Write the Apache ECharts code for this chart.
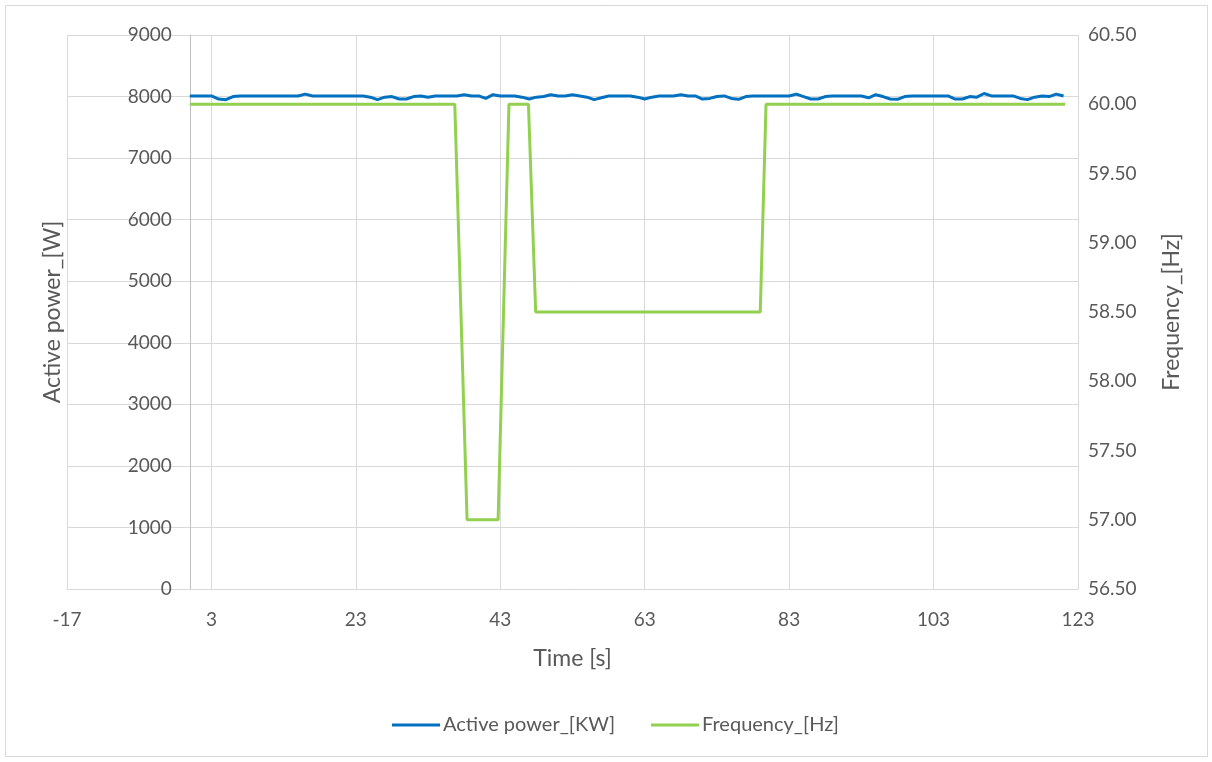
<!DOCTYPE html>
<html>
<head>
<meta charset="utf-8">
<title>Active power and frequency</title>
<script src="https://cdn.jsdelivr.net/npm/echarts@6/dist/echarts.min.js"></script>
<style>
  html, body { margin: 0; padding: 0; background: #ffffff; }
  #chart { width: 1212px; height: 762px; }
</style>
</head>
<body>
<div id="chart"></div>
<script>
// Active power samples, one per second from t = 0 s
const powerTime = [
  0, 1, 2, 3, 4, 5, 6, 7, 8, 9, 10, 11, 12, 13, 14, 15, 16, 17, 18, 19,
  20, 21, 22, 23, 24, 25, 26, 27, 28, 29, 30, 31, 32, 33, 34, 35, 36, 37, 38, 39,
  40, 41, 42, 43, 44, 45, 46, 47, 48, 49, 50, 51, 52, 53, 54, 55, 56, 57, 58, 59,
  60, 61, 62, 63, 64, 65, 66, 67, 68, 69, 70, 71, 72, 73, 74, 75, 76, 77, 78, 79,
  80, 81, 82, 83, 84, 85, 86, 87, 88, 89, 90, 91, 92, 93, 94, 95, 96, 97, 98, 99,
  100, 101, 102, 103, 104, 105, 106, 107, 108, 109, 110, 111, 112, 113, 114, 115, 116, 117, 118, 119,
  120, 121
];
const powerKW = [
  8010, 8010, 8010, 8010, 7960, 7950, 8000, 8010, 8010, 8010, 8010, 8010, 8010, 8010, 8010, 8010, 8040, 8010, 8010, 8010,
  8010, 8010, 8010, 8010, 8010, 7990, 7950, 7990, 8000, 7960, 7960, 8000, 8010, 7990, 8010, 8010, 8010, 8010, 8030, 8010,
  8010, 7970, 8030, 8010, 8010, 8010, 7990, 7960, 7990, 8000, 8030, 8010, 8010, 8030, 8010, 7990, 7950, 7980, 8010, 8010,
  8010, 8010, 7990, 7960, 7990, 8010, 8010, 8010, 8030, 8010, 8010, 7960, 7970, 8000, 8010, 7970, 7955, 8000, 8010, 8010,
  8010, 8010, 8010, 8010, 8040, 8000, 7960, 7960, 8000, 8010, 8010, 8010, 8010, 8010, 7980, 8030, 8000, 7960, 7955, 8000,
  8010, 8010, 8010, 8010, 8010, 8010, 7960, 7960, 8000, 7990, 8050, 8010, 8010, 8010, 8010, 7970, 7950, 7990, 8010, 8000,
  8040, 8010
];

// Grid frequency: step changes during the test
const freqTime = [0, 36.7, 38.4, 42.7, 44.2, 46.9, 47.9, 79.0, 79.8, 121.2];
const freqHz   = [60.0, 60.0, 57.0, 57.0, 60.0, 60.0, 58.5, 58.5, 60.0, 60.0];

// Axis ranges and ticks
const timeMin = -17, timeMax = 123, timeStep = 20;
const powerMin = 0, powerMax = 9000, powerStep = 1000;
const freqMin = 56.5, freqMax = 60.5, freqStep = 0.5;

const seriesNames = ['Active power_[KW]', 'Frequency_[Hz]'];
const axisTitles = { time: 'Time [s]', power: 'Active power_[W]', freq: 'Frequency_[Hz]' };

const powerData = powerTime.map((t, i) => [t, powerKW[i]]);
const freqData = freqTime.map((t, i) => [t, freqHz[i]]);

const textColor = '#595959';
const gridColor = '#d9d9d9';
const fontFamily = 'Lato, "Open Sans", sans-serif';

// Plot box in pixels
const W = 1212, H = 762;
const gridLeft = 67, gridRight = 134, gridTop = 35, gridBottom = 173;
const plotWidth = W - gridLeft - gridRight;
// The power axis crosses the time axis at t = 0: shift it in from the left edge
const powerAxisShift = (0 - timeMin) / (timeMax - timeMin) * plotWidth;

const chart = echarts.init(document.getElementById('chart'), null, { renderer: 'canvas' });

chart.setOption({
  backgroundColor: '#ffffff',
  animation: false,
  textStyle: { fontFamily: fontFamily, color: textColor },
  graphic: [{
    type: 'rect',
    shape: { x: 5.5, y: 5.5, width: 1202, height: 751 },
    style: { fill: 'none', stroke: gridColor, lineWidth: 1 },
    silent: true, z: -1
  }],
  grid: {
    left: gridLeft, right: gridRight, top: gridTop, bottom: gridBottom,
    containLabel: false, outerBoundsMode: 'none'
  },
  legend: {
    data: seriesNames,
    bottom: 22,
    left: 387,
    icon: 'rect',
    itemWidth: 48,
    itemHeight: 3,
    itemGap: 36,
    textStyle: { fontFamily: fontFamily, fontSize: 20, color: textColor, padding: [0, 0, 0, -2] }
  },
  xAxis: {
    type: 'value',
    min: timeMin, max: timeMax, interval: timeStep,
    name: axisTitles.time,
    nameLocation: 'middle',
    nameGap: 58,
    nameTextStyle: { fontFamily: fontFamily, fontSize: 23, color: textColor },
    axisLine: { show: true, onZero: false, lineStyle: { color: gridColor, width: 1 } },
    axisTick: { show: false },
    axisLabel: { fontSize: 19, color: textColor, margin: 21 },
    splitLine: { show: true, lineStyle: { color: gridColor, width: 1 } }
  },
  yAxis: [{
    type: 'value',
    position: 'left',
    offset: -powerAxisShift,
    min: powerMin, max: powerMax, interval: powerStep,
    name: axisTitles.power,
    nameLocation: 'middle',
    nameRotate: 90,
    nameGap: 126,
    nameTextStyle: { fontFamily: fontFamily, fontSize: 23, color: textColor },
    axisLine: { show: true, onZero: false, lineStyle: { color: '#bfbfbf', width: 1 } },
    axisTick: { show: false },
    axisLabel: { fontSize: 19, color: textColor, margin: 18, formatter: v => String(v) },
    splitLine: { show: true, lineStyle: { color: gridColor, width: 1 } }
  }, {
    type: 'value',
    position: 'right',
    min: freqMin, max: freqMax, interval: freqStep,
    name: axisTitles.freq,
    nameLocation: 'middle',
    nameRotate: 90,
    nameGap: 82,
    nameTextStyle: { fontFamily: fontFamily, fontSize: 23, color: textColor },
    axisLine: { show: false, onZero: false },
    axisTick: { show: false },
    axisLabel: { fontSize: 19, color: textColor, margin: 10, formatter: v => v.toFixed(2) },
    splitLine: { show: false }
  }],
  series: [{
    name: seriesNames[0],
    type: 'line',
    yAxisIndex: 0,
    data: powerData,
    symbol: 'none',
    lineStyle: { color: '#0070c0', width: 3 },
    itemStyle: { color: '#0070c0' },
    z: 3
  }, {
    name: seriesNames[1],
    type: 'line',
    yAxisIndex: 1,
    data: freqData,
    symbol: 'none',
    lineStyle: { color: '#92d050', width: 3 },
    itemStyle: { color: '#92d050' },
    z: 2
  }]
});
</script>
</body>
</html>
